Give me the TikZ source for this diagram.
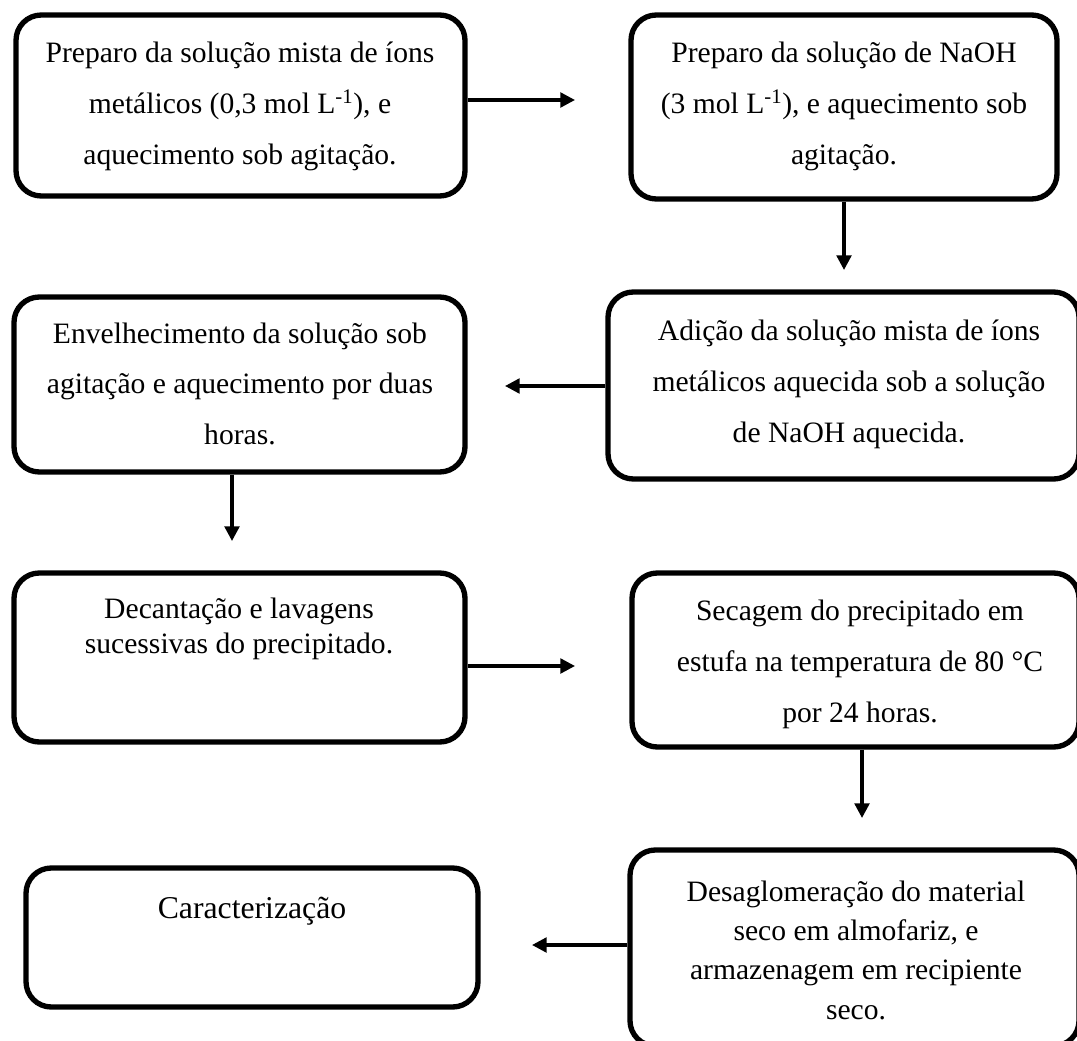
\documentclass[tikz,border=0pt]{standalone}
\usepackage{fontspec}
\setmainfont{Liberation Serif}
\usetikzlibrary{arrows.meta,fit}
\newcommand{\boxtext}[2]{\parbox[t]{440pt}{\centering\fontsize{22.2pt}{#1}\selectfont #2}}
\begin{document}
\begin{tikzpicture}[x=0.75pt,y=-0.75pt,
  box/.style={draw=black, line width=4pt, rounded corners=19pt, inner sep=0pt},
  arr/.style={line width=2.5pt, -{Triangle[length=11pt,width=11pt]}},
  txt/.style={anchor=base, inner sep=0pt}]
\useasboundingbox (0,0) rectangle (1077,1041);
% boxes
\node[box, fit={(16,15) (465,196)}] (b1) {};
\node[box, fit={(631,15) (1057,199)}] (b2) {};
\node[box, fit={(608,292) (1079,479)}] (b3) {};
\node[box, fit={(14,297) (465,472)}] (b4) {};
\node[box, fit={(14,573) (465,742)}] (b5) {};
\node[box, fit={(632,573) (1079,747)}] (b6) {};
\node[box, fit={(630,850) (1079,1046)}] (b7) {};
\node[box, fit={(26,868) (478,1007)}] (b8) {};
% texts
\node[txt] (t1) at (240,63) {\boxtext{38.25pt}{Preparo da solução mista de íons\\metálicos (0,3 mol L\textsuperscript{-1}), e\\aquecimento sob agitação.}};
\node[txt] (t2) at (844,63) {\boxtext{38.25pt}{Preparo da solução de NaOH\\(3 mol L\textsuperscript{-1}), e aquecimento sob\\agitação.}};
\node[txt] (t3) at (849,340) {\boxtext{38.25pt}{Adição da solução mista de íons\\metálicos aquecida sob a solução\\de NaOH aquecida.}};
\node[txt] (t4) at (240,343) {\boxtext{38pt}{Envelhecimento da solução sob\\agitação e aquecimento por duas\\horas.}};
\node[txt] (t5) at (239,618) {\boxtext{26.3pt}{Decantação e lavagens\\sucessivas do precipitado.}};
\node[txt] (t6) at (860,620) {\boxtext{38.6pt}{Secagem do precipitado em\\estufa na temperatura de 80 °C\\por 24 horas.}};
\node[txt] (t7) at (856,901) {\boxtext{29.6pt}{Desaglomeração do material\\seco em almofariz, e\\armazenagem em recipiente\\seco.}};
\node[txt] (t8) at (252,918) {\parbox[t]{440pt}{\centering\fontsize{23.8pt}{28pt}\selectfont Caracterização}};
% arrows
\coordinate (e1) at (575,100);
\coordinate (e2) at (844,270);
\coordinate (e3) at (505,386);
\coordinate (e4) at (232,541);
\coordinate (e5) at (575,666);
\coordinate (e6) at (862,818);
\coordinate (e7) at (532,945);
\draw[arr] (b1.east |- e1) -- (e1);
\draw[arr] (b2.south -| e2) -- (e2);
\draw[arr] (b3.west |- e3) -- (e3);
\draw[arr] (b4.south -| e4) -- (e4);
\draw[arr] (b5.east |- e5) -- (e5);
\draw[arr] (b6.south -| e6) -- (e6);
\draw[arr] (b7.west |- e7) -- (e7);
\end{tikzpicture}
\end{document}
